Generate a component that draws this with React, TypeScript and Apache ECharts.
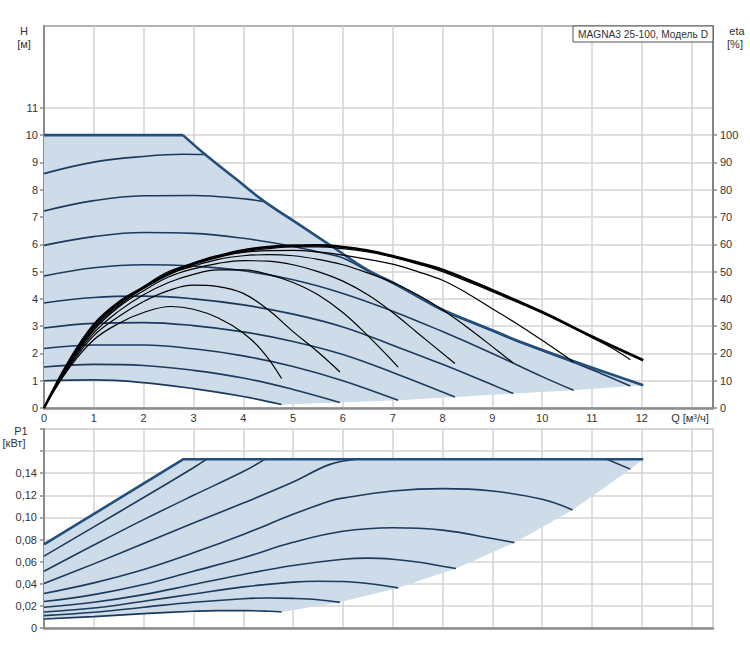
import React, { useEffect, useRef } from 'react';
import * as echarts from 'echarts';

// ---------- tick labels ----------
const Q_TICK_LABELS = [0, 1, 2, 3, 4, 5, 6, 7, 8, 9, 10, 11, 12];
const H_TICK_LABELS = [0, 1, 2, 3, 4, 5, 6, 7, 8, 9, 10, 11];
const ETA_TICK_LABELS = [0, 10, 20, 30, 40, 50, 60, 70, 80, 90, 100];
const P_TICK_LABELS = [0, 0.02, 0.04, 0.06, 0.08, 0.1, 0.12, 0.14];
const P_TICKS = [0, 0.02, 0.04, 0.06, 0.08, 0.1, 0.12, 0.14, 0.16, 0.18];

// ---------- H(Q) curves, top chart [Q m3/h, H m] ----------
const H_MAX_FLAT = [[0, 10], [2.79, 10]];
const H_MAX_CURVE = [[2.79, 10], [3.23, 9.3], [3.85, 8.4], [4.4, 7.6], [5.14, 6.7], [5.8, 5.9], [6.5, 5.05], [7, 4.6], [7.5, 4.1], [8, 3.6], [8.5, 3.22], [9, 2.85], [9.6, 2.4], [10.62, 1.72], [12.03, 0.83]];
const H_S9 = [[0, 8.59], [1, 9.01], [2, 9.22], [2.8, 9.3], [3.23, 9.29]];
const H_S8 = [[0, 7.22], [1, 7.6], [2, 7.78], [3, 7.79], [4, 7.67], [4.4, 7.57]];
const H_S7 = [[0, 5.96], [1, 6.28], [2, 6.43], [3, 6.4], [4, 6.22], [5, 5.92], [5.5, 5.72], [6, 5.5], [6.5, 5.02], [7, 4.57], [7.5, 4.07], [8, 3.57], [8.5, 3.19], [9, 2.82], [9.6, 2.37], [10.62, 1.68], [11.2, 1.25], [11.77, 0.81]];
const H_S6 = [[0, 4.84], [1, 5.14], [2, 5.25], [3, 5.2], [4, 5.03], [5, 4.7], [6, 4.2], [7, 3.55], [8, 2.8], [9, 2.0], [10, 1.15], [10.63, 0.65]];
const H_S5 = [[0, 3.85], [1, 4.05], [2, 4.1], [3, 4.0], [4, 3.78], [5, 3.44], [6, 2.97], [7, 2.3], [8, 1.6], [9, 0.85], [9.42, 0.53]];
const H_S4 = [[0, 2.93], [1, 3.1], [2, 3.13], [3, 3.02], [4, 2.79], [5, 2.44], [6, 1.96], [7, 1.3], [8.25, 0.4]];
const H_S3 = [[0, 2.18], [1, 2.31], [2, 2.31], [3, 2.17], [4, 1.91], [5, 1.52], [6, 1.0], [7.11, 0.28]];
const H_S2 = [[0, 1.5], [1, 1.6], [2, 1.56], [3, 1.38], [4, 1.1], [5, 0.68], [5.94, 0.2]];
const H_S1 = [[0, 1.0], [1, 1.03], [2, 0.93], [3, 0.71], [4, 0.42], [4.77, 0.13]];
const H_MIN_BOUND = [[4.77, 0.13], [5.94, 0.2], [7.11, 0.28], [8.25, 0.4], [9.42, 0.53], [10.63, 0.65], [11.77, 0.81], [12.03, 0.83]];

// ---------- efficiency curves [Q, eta %] ----------
const ETA_1 = [[0, 0], [0.5, 14.5], [1, 25], [1.5, 31], [2, 35], [2.55, 37.2], [3, 36.2], [3.5, 33], [4, 27.5], [4.4, 20.5], [4.77, 10.8]];
const ETA_2 = [[0, 0], [0.5, 15], [1, 26.5], [1.5, 33.5], [2, 39], [2.5, 43], [3, 45], [3.5, 44.5], [4, 42], [4.5, 36], [5, 28], [5.5, 20.5], [5.94, 13.2]];
const ETA_3 = [[0, 0], [0.5, 15.5], [1, 27.5], [1.5, 35.5], [2, 41.5], [2.5, 46], [3, 49], [3.5, 50.6], [4, 50.6], [4.5, 49], [5, 46], [5.5, 41.5], [6, 35], [6.5, 26.5], [7.11, 15]];
const ETA_4 = [[0, 0], [0.5, 16], [1, 28.5], [1.5, 37], [2, 43], [2.5, 48], [3, 51], [3.5, 53], [4, 54], [4.5, 53.8], [5, 52.5], [5.5, 50], [6, 46.5], [6.5, 41.5], [7, 35], [7.5, 27.5], [8.25, 16.3]];
const ETA_5 = [[0, 0], [0.5, 16.2], [1, 29], [1.5, 37.5], [2, 44], [2.5, 49], [3, 52], [3.5, 54.5], [4, 55.8], [4.5, 56.2], [5, 55.8], [5.5, 54.5], [6, 52.5], [6.5, 49.5], [7, 46], [7.5, 41.5], [8, 36], [8.5, 29.5], [9, 22.5], [9.42, 16.5]];
const ETA_6 = [[0, 0], [0.5, 16.5], [1, 29.5], [1.5, 38], [2, 44.5], [2.5, 50], [3, 53], [3.5, 55.5], [4, 57], [4.5, 57.7], [5, 57.8], [5.5, 57.2], [6, 56], [6.5, 54.5], [7, 52.7], [7.5, 50], [8, 46.8], [8.5, 42], [9, 36.4], [9.5, 30.8], [10, 24.8], [10.63, 16.9]];
const ETA_7 = [[0, 0], [0.5, 16.8], [1, 30], [1.5, 38.2], [2, 43.8], [2.5, 48.8], [3, 52.5], [3.5, 55.2], [4, 57.2], [4.5, 58.4], [5, 59], [5.5, 59], [6, 58.4], [6.5, 57.2], [7, 55.3], [7.5, 52.8], [8, 50], [9, 42.6], [10, 34.8], [11, 25.8], [11.4, 22], [11.77, 17.7]];
const ETA_8 = [[0, 0], [0.5, 17], [1, 30.5], [1.5, 38.7], [2, 44.2], [2.5, 49.3], [3, 53], [3.5, 55.7], [4, 57.8], [4.5, 59], [5, 59.5], [5.5, 59.6], [6, 59], [6.5, 57.7], [7, 55.7], [7.5, 53.3], [8, 50.7], [9, 43.2], [10, 35.2], [11, 26.2], [12.03, 17.5]];

// ---------- P1(Q) curves, bottom chart [Q, kW] ----------
const P_MAX = [[0, 0.0756], [2.8, 0.1527], [12.03, 0.1527]];
const P_S9 = [[0, 0.065], [1, 0.0915], [2, 0.118], [3, 0.145], [3.27, 0.1527]];
const P_S8 = [[0, 0.0514], [1, 0.075], [2, 0.098], [3, 0.12], [4, 0.1415], [4.44, 0.1527]];
const P_S7A = [[0, 0.0402], [1, 0.058], [2, 0.0765], [3, 0.095], [4, 0.113], [5, 0.132], [5.74, 0.148], [6.28, 0.1527]];
const P_S7B = [[11.3, 0.1527], [11.77, 0.1437]];
const P_S6 = [[0, 0.0312], [1, 0.0408], [2, 0.0529], [3, 0.068], [4, 0.0846], [5, 0.1028], [5.74, 0.1149], [6, 0.1175], [7, 0.1239], [8, 0.1261], [9, 0.1239], [10, 0.1164], [10.61, 0.1068]];
const P_S5 = [[0, 0.0239], [1, 0.0302], [2, 0.0393], [3, 0.0514], [4, 0.0635], [5, 0.0775], [6, 0.0875], [7, 0.0907], [8, 0.0885], [9, 0.081], [9.44, 0.0772]];
const P_S4 = [[0, 0.0188], [1, 0.0233], [2, 0.0302], [3, 0.0393], [4, 0.0484], [5, 0.0565], [6, 0.0622], [6.5, 0.0632], [7, 0.0622], [7.5, 0.0597], [8, 0.0558], [8.27, 0.0538]];
const P_S3 = [[0, 0.0145], [1, 0.0181], [2, 0.0242], [3, 0.0308], [4, 0.0372], [5, 0.0415], [5.5, 0.0423], [6, 0.042], [6.5, 0.0402], [7.11, 0.0363]];
const P_S2 = [[0, 0.0112], [1, 0.0142], [2, 0.0188], [3, 0.0233], [4, 0.0265], [4.5, 0.0272], [5, 0.0268], [5.5, 0.0256], [5.94, 0.0232]];
const P_S1 = [[0, 0.0082], [1, 0.0103], [2, 0.013], [3, 0.0151], [3.5, 0.0157], [4, 0.0157], [4.5, 0.0152], [4.77, 0.0145]];
const P_MIN_BOUND = [[4.77, 0.0145], [5.94, 0.0232], [7.11, 0.0363], [8.27, 0.0538], [9.44, 0.0772], [10.61, 0.1068], [11.77, 0.1437], [12.03, 0.1527]];

const FONT = "'Liberation Sans', Arial, sans-serif";
const FILL = '#cedbe8';
const GRID_C = '#d3d3d3';
const AXIS_C = '#8c8c8c';
const SPEED_C = '#1b3a5c';
const MAX_C = '#234f7d';
const Q_AXIS_MAX = 13.43;

const rev = (a: number[][]) => a.slice().reverse();

const H_FILL = [...H_MAX_FLAT, ...H_MAX_CURVE.slice(1), ...rev(H_MIN_BOUND).slice(1), ...rev(H_S1).slice(1)];
const P_FILL = [...P_MAX, ...rev(P_MIN_BOUND).slice(1), ...rev(P_S1).slice(1)];

function polygonSeries(pts: number[][], xi: number, yi: number) {
  return {
    type: 'custom',
    xAxisIndex: xi,
    yAxisIndex: yi,
    silent: true,
    z: 1,
    data: [[0, 0]],
    renderItem: (_params: any, api: any) => ({
      type: 'polygon',
      shape: { points: pts.map((p) => api.coord(p)) },
      style: { fill: FILL },
    }),
  };
}

function lineSeries(data: number[][], xi: number, yi: number, color: string, width: number, smooth = true, z = 3) {
  return {
    type: 'line',
    data,
    xAxisIndex: xi,
    yAxisIndex: yi,
    showSymbol: false,
    symbol: 'none',
    smooth: smooth ? 0.4 : false,
    lineStyle: { color, width },
    silent: true,
    z,
  };
}

const labelStyle = { color: '#333', fontSize: 11, fontFamily: FONT };
const splitLine = { show: true, lineStyle: { color: GRID_C, width: 1.5 } };

export default function App() {
  const ref = useRef<HTMLDivElement>(null);
  useEffect(() => {
    if (!ref.current) return;
    const chart = echarts.init(ref.current, null, { renderer: 'svg' });
    const txt = (text: string, x: number, y: number, size = 11) => ({
      type: 'text', x, y, z: 100,
      style: { text, fill: '#333', font: `${size}px ${FONT}`, align: 'center', verticalAlign: 'middle' },
    });
    const option: any = {
      animation: false,
      backgroundColor: '#fff',
      grid: [
        { left: 44, right: 37, top: 26, height: 382, show: true, borderColor: '#9a9a9a', borderWidth: 1.5, backgroundColor: 'transparent' },
        { left: 44, right: 37, top: 429, height: 199, show: true, borderColor: '#cfcfcf', borderWidth: 1.5, backgroundColor: 'transparent' },
      ],
      xAxis: [
        {
          gridIndex: 0, type: 'value', min: 0, max: Q_AXIS_MAX, interval: 1,
          axisLine: { show: true, onZero: false, lineStyle: { color: AXIS_C, width: 2.5 } },
          axisTick: { show: false },
          axisLabel: { ...labelStyle, customValues: Q_TICK_LABELS, margin: 4 },
          splitLine,
        },
        {
          gridIndex: 1, type: 'value', min: 0, max: Q_AXIS_MAX, interval: 1,
          axisLine: { show: true, onZero: false, lineStyle: { color: AXIS_C, width: 2.5 } },
          axisTick: { show: false },
          axisLabel: { show: false },
          splitLine,
        },
      ],
      yAxis: [
        {
          gridIndex: 0, type: 'value', min: 0, max: 14, interval: 1,
          axisLine: { show: true, onZero: false, lineStyle: { color: AXIS_C, width: 2 } },
          axisTick: { show: true, customValues: H_TICK_LABELS, length: 4, lineStyle: { color: AXIS_C, width: 1.5 } },
          axisLabel: { ...labelStyle, customValues: H_TICK_LABELS, margin: 6 },
          splitLine,
        },
        {
          gridIndex: 0, type: 'value', position: 'right', min: 0, max: 140, interval: 10,
          axisLine: { show: true, onZero: false, lineStyle: { color: '#6e6e6e', width: 1.5 } },
          axisTick: { show: true, customValues: ETA_TICK_LABELS, length: 4, lineStyle: { color: AXIS_C, width: 1.5 } },
          axisLabel: { ...labelStyle, customValues: ETA_TICK_LABELS, margin: 7 },
          splitLine: { show: false },
        },
        {
          gridIndex: 1, type: 'value', min: 0, max: 0.18, interval: 0.02,
          axisLine: { show: true, onZero: false, lineStyle: { color: AXIS_C, width: 2 } },
          axisTick: { show: true, customValues: P_TICKS, length: 4, lineStyle: { color: AXIS_C, width: 1.5 } },
          axisLabel: {
            ...labelStyle, customValues: P_TICK_LABELS, margin: 7,
            formatter: (v: number) => (v === 0 ? '0' : v.toFixed(2).replace('.', ',')),
          },
          splitLine,
        },
      ],
      series: [
        polygonSeries(H_FILL, 0, 0),
        polygonSeries(P_FILL, 1, 2),
        lineSeries(H_S1, 0, 0, SPEED_C, 1.6),
        lineSeries(H_S2, 0, 0, SPEED_C, 1.6),
        lineSeries(H_S3, 0, 0, SPEED_C, 1.6),
        lineSeries(H_S4, 0, 0, SPEED_C, 1.6),
        lineSeries(H_S5, 0, 0, SPEED_C, 1.6),
        lineSeries(H_S6, 0, 0, SPEED_C, 1.6),
        lineSeries(H_S7, 0, 0, SPEED_C, 1.6),
        lineSeries(H_S8, 0, 0, SPEED_C, 1.6),
        lineSeries(H_S9, 0, 0, SPEED_C, 1.6),
        lineSeries(H_MAX_FLAT, 0, 0, MAX_C, 2.6, false, 4),
        lineSeries(H_MAX_CURVE, 0, 0, MAX_C, 2.6, true, 4),
        lineSeries(ETA_1, 0, 1, '#000', 1.2, true, 5),
        lineSeries(ETA_2, 0, 1, '#000', 1.2, true, 5),
        lineSeries(ETA_3, 0, 1, '#000', 1.2, true, 5),
        lineSeries(ETA_4, 0, 1, '#000', 1.2, true, 5),
        lineSeries(ETA_5, 0, 1, '#000', 1.2, true, 5),
        lineSeries(ETA_6, 0, 1, '#000', 1.2, true, 5),
        lineSeries(ETA_7, 0, 1, '#000', 1.2, true, 5),
        lineSeries(ETA_8, 0, 1, '#000', 2.6, true, 5),
        lineSeries(P_S1, 1, 2, SPEED_C, 1.6),
        lineSeries(P_S2, 1, 2, SPEED_C, 1.6),
        lineSeries(P_S3, 1, 2, SPEED_C, 1.6),
        lineSeries(P_S4, 1, 2, SPEED_C, 1.6),
        lineSeries(P_S5, 1, 2, SPEED_C, 1.6),
        lineSeries(P_S6, 1, 2, SPEED_C, 1.6),
        lineSeries(P_S7A, 1, 2, SPEED_C, 1.6),
        lineSeries(P_S7B, 1, 2, SPEED_C, 1.6, false),
        lineSeries(P_S8, 1, 2, SPEED_C, 1.6),
        lineSeries(P_S9, 1, 2, SPEED_C, 1.6),
        lineSeries(P_MAX, 1, 2, MAX_C, 2.6, false, 4),
      ],
      graphic: [
        txt('H', 24, 31),
        txt('[м]', 24, 44),
        txt('eta', 737, 31),
        txt('[%]', 735, 44),
        txt('P1', 21, 431),
        txt('[кВт]', 14, 443),
        txt('Q [м³/ч]', 690, 418),
        {
          type: 'rect', z: 99,
          shape: { x: 573, y: 26, width: 140, height: 16 },
          style: { fill: '#fff', stroke: '#555', lineWidth: 1 },
        },
        txt('MAGNA3 25-100, Модель D', 643, 34.5, 10.2),
      ],
    };
    chart.setOption(option);
    return () => chart.dispose();
  }, []);
  return (
    <div
      ref={ref}
      style={{ position: 'absolute', left: 0, top: 0, width: 750, height: 657 }}
    />
  );
}
